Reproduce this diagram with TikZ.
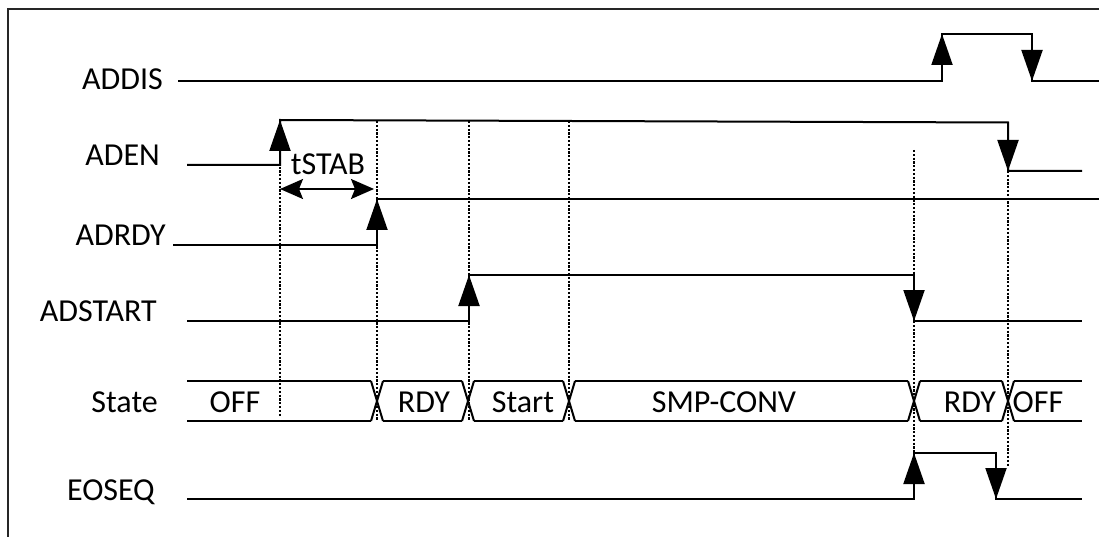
\documentclass[tikz,border=0pt]{standalone}
\usepackage{fontspec}
\setmainfont{Carlito}
\usetikzlibrary{arrows.meta}
\begin{document}
\begin{tikzpicture}[x=1pt,y=-1pt,
  sig/.style={line width=2pt, line join=miter},
  edgearrow/.style={line width=2pt, -{Triangle[length=31pt,width=21pt]}},
  guide/.style={line width=1.5pt, dash pattern=on 2.2pt off 1.6pt},
  lbl/.style={font=\fontsize{32}{38}\selectfont, inner sep=0pt, anchor=base east},
  bustxt/.style={font=\fontsize{32}{38}\selectfont, inner sep=0pt, anchor=base},
  dim/.style={line width=2pt, {Stealth[length=23pt,width=20pt,inset=4pt]}-{Stealth[length=23pt,width=20pt,inset=4pt]}}]
\useasboundingbox (0,0) rectangle (1099,537);
% frame
\draw[line width=2pt, black!85] (8,537) -- (8,9) -- (1099,9);

% labels
\node[lbl] (lADDIS) at (163,90) {ADDIS};
\node[lbl] (lADEN) at (160,166) {ADEN};
\node[lbl] (lADRDY) at (166,245) {ADRDY};
\node[lbl] (lADSTART) at (157,321) {ADSTART};
\node[lbl] (lState) at (158,412) {State};
\node[lbl] (lEOSEQ) at (155,500) {EOSEQ};

% guide lines
\draw[guide] (280,121) -- (280,417);
\draw[guide] (377,121) -- (377,421);
\draw[guide] (469,121) -- (469,421);
\draw[guide] (569,121) -- (569,421);
\draw[guide] (914,150) -- (914,453);
\draw[guide] (1008,171) -- (1008,467);

% ADDIS
\draw[sig] (178,81) -- (942,81) -- (942,34) -- (1032,34) -- (1032,81) -- (1099,81);
\draw[edgearrow] (942,81) -- (942,34);
\draw[edgearrow] (1032,34) -- (1032,81);

% ADEN
\draw[sig] (187,165) -- (280,165) -- (280,120) -- (1008,122.5) -- (1008,171) -- (1082,171);
\draw[edgearrow] (280,165) -- (280,120);
\draw[edgearrow] (1008,122.5) -- (1008,171);

% tSTAB
\node[bustxt] (tstab) at (328,175) {tSTAB};
\draw[dim] (280,189) -- (374,189);

% ADRDY
\draw[sig] (173,245) -- (377,245) -- (377,199) -- (1099,199);
\draw[edgearrow] (377,245) -- (377,199);

% ADSTART
\draw[sig] (187,321) -- (469,321) -- (469,275) -- (914,275) -- (914,321) -- (1082,321);
\draw[edgearrow] (469,321) -- (469,275);
\draw[edgearrow] (914,275) -- (914,321);

% State bus
\foreach \a/\b in {187/371, 383/462, 474/563, 575/908, 920/1002, 1014/1082}
  {\draw[sig] (\a,381) -- (\b,381) (\a,421) -- (\b,421);}
\foreach \c in {377, 468, 569, 914, 1008}
  {\draw[sig] (\c-6,381) -- (\c+6,421) (\c-6,421) -- (\c+6,381);}
\node[bustxt] (sOFF1) at (235,412) {OFF};
\node[bustxt] (sRDY1) at (424,412) {RDY};
\node[bustxt] (sStart) at (523,412) {Start};
\node[bustxt] (sSMP) at (724,412) {SMP-CONV};
\node[bustxt] (sRDY2) at (970,412) {RDY};
\node[bustxt] (sOFF2) at (1038,412) {OFF};

% EOSEQ
\draw[sig] (187,499) -- (914,499) -- (914,453) -- (996,453) -- (996,499) -- (1082,499);
\draw[edgearrow] (914,499) -- (914,453);
\draw[edgearrow] (996,453) -- (996,499);
\end{tikzpicture}
\end{document}
